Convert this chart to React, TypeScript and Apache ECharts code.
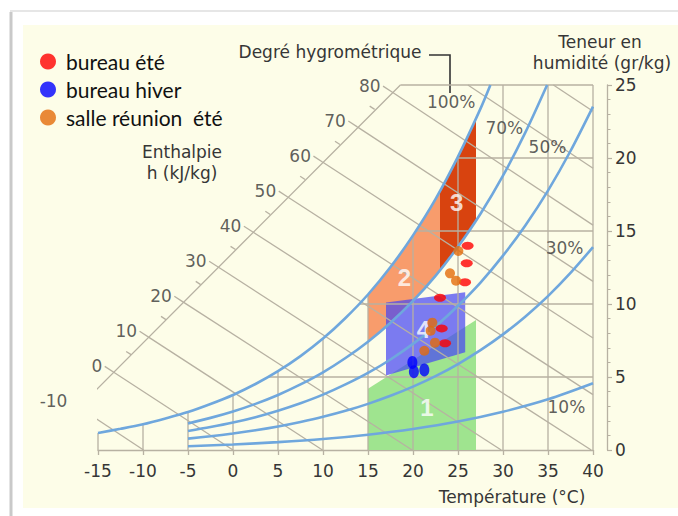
import React, { useEffect, useRef } from 'react';
import * as echarts from 'echarts';

// ---------- DATA (temperature °C, humidity g/kg) ----------
const rh100 = [[-15,1.17],[-12.5,1.45],[-10,1.76],[-7.5,2.16],[-5,2.6],[-2.5,3.15],[0,3.77],[2.5,4.52],[5,5.4],[7.5,6.43],[10,7.63],[12.5,9.04],[15,10.65],[17.5,12.53],[20,14.7],[22.5,17.18],[25,20.09],[27.5,23.38],[28.6,25]];
const rh70 = [[-5,1.82],[-2.5,2.2],[0,2.64],[2.5,3.16],[5,3.77],[7.5,4.49],[10,5.32],[12.5,6.3],[15,7.42],[17.5,8.72],[20,10.21],[22.5,11.93],[25,13.92],[27.5,16.18],[30,18.79],[32.5,21.77],[34.9,25]];
const rh50 = [[-5,1.3],[-2.5,1.57],[0,1.88],[2.5,2.25],[5,2.69],[7.5,3.2],[10,3.79],[12.5,4.49],[15,5.28],[17.5,6.2],[20,7.27],[22.5,8.47],[25,9.88],[27.5,11.47],[30,13.31],[32.5,15.4],[35,17.77],[37.5,20.48],[40,23.52]];
const rh30 = [[-5,0.78],[-2.5,0.94],[0,1.13],[2.5,1.35],[5,1.61],[7.5,1.92],[10,2.27],[12.5,2.68],[15,3.16],[17.5,3.71],[20,4.34],[22.5,5.06],[25,5.89],[27.5,6.84],[30,7.92],[32.5,9.15],[35,10.54],[37.5,12.13],[40,13.9]];
const rh10 = [[-5,0.26],[0,0.38],[5,0.54],[10,0.75],[15,1.05],[20,1.44],[25,1.95],[30,2.62],[35,3.47],[40,4.57]];

const rhLabelText = ['100%', '70%', '50%', '30%', '10%'];
const rhLabelAt = [[24.3,23.8],[30.2,22.05],[35.0,20.7],[36.9,13.8],[37.1,2.9]];

// Dry-bulb grid lines (top ends) and humidity grid lines (left ends)
const gridVertical = [[-15,1.17],[-10,1.76],[-5,2.6],[0,3.77],[5,5.4],[10,7.63],[15,10.65],[20,14.7],[25,20.09],[30,25],[35,25],[40,25]];
const gridHorizontal = [[3.9,5],[14,10],[20.35,15],[24.93,20],[18.6,25]];

// Enthalpy lines
const enthalpyValues = [-10,0,10,20,30,40,50,60,70,80,90,100];
const enthalpyStart = [[-17.12,2.93],[-13.25,5.33],[-9.38,7.73],[-5.52,10.13],[-1.65,12.53],[2.21,14.93],[6.08,17.33],[9.94,19.73],[13.81,22.13],[17.67,24.52],[26.1,25],[35.6,25]];
const enthalpyEnd = [[-9.94,0],[0,0],[9.94,0],[19.9,0],[29.8,0],[39.8,0],[40,3.79],[40,7.67],[40,11.55],[40,15.4],[40,19.3],[40,23.2]];
const enthalpyAxis = [[-17.12,2.93],[0.74,13.97],[18.6,25]];
const enthalpyMinor = [[-15.18,4.13],[-11.32,6.53],[-7.45,8.93],[-3.59,11.33],[0.28,13.73],[4.14,16.13],[8.01,18.53],[11.88,20.93],[15.74,23.33]];

// Comfort zones
const zone1 = [[15,0],[15,4.2],[27,8.9],[27,0]];
const zone2 = [[15,7.42],[15,10.65],[16,11.36],[17,12.13],[18,12.94],[19,13.79],[20,14.7],[21,15.66],[22,16.67],[23,17.74],[23,12.32],[22,11.58],[21,10.88],[20,10.21],[19,9.59],[18,9.0],[17,8.44],[16,7.91]];
const zone3 = [[23,12.32],[23,17.74],[24,18.88],[25,20.09],[26,21.35],[27,22.7],[27,15.71],[26,14.79],[25,13.92],[24,13.1]];
const zone4 = [[17,5.1],[17,10.1],[25.8,10.8],[25.8,6.7]];
const zoneNames = ['1', '2', '3', '4'];
const zoneLabelAt = [[21.6,2.9],[19.1,11.8],[24.9,16.9],[21.2,8.2]];

// Measurements
const bureauEte = [[26.07,13.99],[25.97,12.79],[25.78,11.49],[23.0,10.43],[23.19,8.33],[23.56,7.31]];
const bureauHiver = [[19.93,6.0],[20.1,5.36],[21.26,5.48]];
const salleReunionEte = [[25.04,13.63],[24.11,12.1],[24.78,11.6],[22.15,8.72],[21.96,8.17],[22.44,7.35],[21.26,6.8]];

// ---------- STYLE ----------
const GRID = '#b7b1a2';
const BLUE = '#6fa7dd';
const TXT = '#363636';
const FONT = 'DejaVu Sans';

function buildOption() {
  const polys = [zone1, zone2, zone3, zone4];
  const zoneFill = ['#9fe48f', '#f89c6c', '#d8430f', 'rgba(72,72,242,0.72)'];

  const segments: number[][][] = [
    ...gridVertical.map(p => [[p[0], 0], p]),
    ...gridHorizontal.map(p => [p, [40, p[1]]]),
    ...enthalpyValues.map((_, i) => [enthalpyStart[i], enthalpyEnd[i]]),
    enthalpyAxis,
    ...enthalpyValues.slice(0, 10).map((_, i) => {
      const p = enthalpyStart[i];
      return [p, [p[0] - 1, p[1] + 0.4]];
    }),
    ...enthalpyMinor.map(p => [p, [p[0] - 0.55, p[1] + 0.22]]),
  ];
  const segSeries = segments.map(s => ({
    type: 'line', data: s.map(p => [p[0], p[1]]), showSymbol: false, symbol: 'none', clip: false, z: 2, silent: true,
    lineStyle: { color: GRID, width: 1.3 },
  }));

  const enthLabelData = enthalpyValues.slice(0, 10).map((v, i) => {
    const p = enthalpyStart[i];
    return [p[0] - 1, p[1] + 0.4, v];
  });

  const curve = (data: number[][]) => ({
    type: 'line', data, showSymbol: false, symbol: 'none', smooth: 0.3, clip: false, z: 4,
    lineStyle: { color: BLUE, width: 2.6 }, silent: true,
  });

  return {
    animation: false,
    backgroundColor: '#ffffff',
    grid: { left: 98, right: 85, top: 85, bottom: 66, containLabel: false },
    legend: {
      data: ['bureau été', 'bureau hiver', 'salle réunion  été'],
      orient: 'vertical', left: 40, top: 51, padding: 0, itemWidth: 16, itemHeight: 16, itemGap: 7,
      icon: 'circle',
      textStyle: { fontFamily: 'Lato', fontSize: 21, color: '#111', padding: [0, 0, 0, 5] },
    },
    xAxis: {
      type: 'value', min: -15, max: 40, interval: 5,
      axisLine: { show: true, onZero: false, lineStyle: { color: GRID, width: 1.3 } },
      axisTick: { show: true, length: 5, lineStyle: { color: GRID, width: 1.3 } },
      axisLabel: { fontFamily: FONT, fontSize: 17, color: TXT, margin: 12 },
      splitLine: { show: false },
    },
    yAxis: {
      type: 'value', min: 0, max: 25, interval: 5, position: 'right', offset: 14,
      axisLine: { show: true, onZero: false, lineStyle: { color: GRID, width: 1.3 } },
      axisTick: { show: true, length: 5, lineStyle: { color: GRID, width: 1.2 } },
      minorTick: { show: true, splitNumber: 5, length: 3.5, lineStyle: { color: GRID, width: 1 } },
      axisLabel: { fontFamily: FONT, fontSize: 17, color: TXT, margin: 8 },
      splitLine: { show: false },
    },
    graphic: {
      elements: [
        { type: 'rect', z: -10, shape: { x: 23, y: 25, width: 655, height: 483 }, style: { fill: '#fdfde8' } },
        { type: 'line', z: -10, shape: { x1: 11, y1: 12, x2: 11, y2: 516 }, style: { stroke: '#c9c9c9', lineWidth: 3 } },
        { type: 'line', z: -10, shape: { x1: 10, y1: 11, x2: 678, y2: 11 }, style: { stroke: '#e6e6e6', lineWidth: 2 } },
        { type: 'text', x: 330, y: 52, style: { text: 'Degré hygrométrique', fontFamily: FONT, fontSize: 17, fill: TXT, align: 'center', verticalAlign: 'middle' } },
        { type: 'polyline', shape: { points: [[429, 55], [450, 55], [450, 93]] }, style: { stroke: '#333', lineWidth: 1.6, fill: null } },
        { type: 'text', x: 600, y: 42, style: { text: 'Teneur en', fontFamily: FONT, fontSize: 17, fill: TXT, align: 'center', verticalAlign: 'middle' } },
        { type: 'text', x: 602, y: 63, style: { text: 'humidité (gr/kg)', fontFamily: FONT, fontSize: 17, fill: TXT, align: 'center', verticalAlign: 'middle' } },
        { type: 'text', x: 182, y: 152, style: { text: 'Enthalpie', fontFamily: FONT, fontSize: 17, fill: TXT, align: 'center', verticalAlign: 'middle' } },
        { type: 'text', x: 182, y: 173, style: { text: 'h (kJ/kg)', fontFamily: FONT, fontSize: 17, fill: TXT, align: 'center', verticalAlign: 'middle' } },
        { type: 'text', x: 512, y: 497, style: { text: 'Température (°C)', fontFamily: FONT, fontSize: 17, fill: TXT, align: 'center', verticalAlign: 'middle' } },
      ],
    },
    series: [
      {
        type: 'custom', z: 1, clip: false, silent: true,
        data: [[0], [1], [2], [3]],
        renderItem: (_p: any, api: any) => {
          const i = api.value(0);
          return {
            type: 'polygon',
            shape: { points: polys[i].map(pt => api.coord(pt)) },
            style: { fill: zoneFill[i] },
          };
        },
      },
      ...segSeries,
      curve(rh100), curve(rh70), curve(rh50), curve(rh30), curve(rh10),
      {
        type: 'scatter', z: 5, silent: true, clip: false, symbolSize: 1, itemStyle: { color: 'transparent' },
        data: enthLabelData,
        label: { show: true, position: 'left', distance: 2, formatter: (p: any) => String(p.value[2]), fontFamily: FONT, fontSize: 17, color: TXT },
      },
      {
        type: 'scatter', z: 5, silent: true, clip: false, symbolSize: 1, itemStyle: { color: 'transparent' },
        data: rhLabelAt.map((p, i) => [p[0], p[1], rhLabelText[i]]),
        label: { show: true, position: [0, 0], align: 'center', verticalAlign: 'middle', formatter: (p: any) => p.value[2], fontFamily: FONT, fontSize: 17, color: TXT },
      },
      {
        type: 'scatter', z: 5, silent: true, clip: false, symbolSize: 1, itemStyle: { color: 'transparent' },
        data: zoneLabelAt.map((p, i) => [p[0], p[1], zoneNames[i]]),
        label: { show: true, position: [0, 0], align: 'center', verticalAlign: 'middle', formatter: (p: any) => p.value[2], fontFamily: 'Liberation Sans', fontWeight: 'bold', fontSize: 24, color: '#ffffff' },
      },
      { name: 'bureau été', type: 'scatter', z: 6, data: bureauEte, symbol: 'circle', symbolSize: [12, 8], itemStyle: { color: '#ff0000' } },
      { name: 'bureau hiver', type: 'scatter', z: 6, data: bureauHiver, symbol: 'circle', symbolSize: [10, 13], itemStyle: { color: '#0000ff' } },
      { name: 'salle réunion  été', type: 'scatter', z: 6, data: salleReunionEte, symbol: 'circle', symbolSize: 10, itemStyle: { color: '#e46c0a' } },
    ],
  };
}

export default function App() {
  const ref = useRef<HTMLDivElement>(null);
  useEffect(() => {
    const chart = echarts.init(ref.current as HTMLDivElement, null, { renderer: 'svg' });
    chart.setOption(buildOption() as any);
    return () => chart.dispose();
  }, []);
  return <div ref={ref} style={{ position: 'fixed', left: 0, top: 0, width: 678, height: 516 }} />;
}
